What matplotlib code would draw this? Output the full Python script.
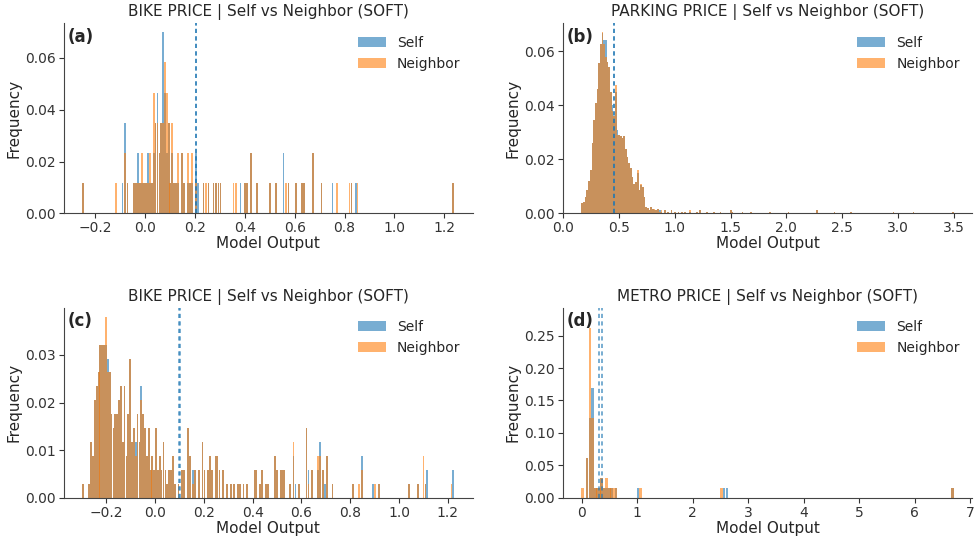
import matplotlib
matplotlib.use("Agg")
import matplotlib.pyplot as plt
import numpy as np

# ---- (a) BIKE PRICE, counts per bin (N = 86)
a_x = [-0.248, -0.116, -0.090, -0.079, -0.070, -0.045, -0.036, -0.028, -0.020, -0.012,
       -0.004, 0.005, 0.012, 0.020, 0.028, 0.035, 0.042, 0.050, 0.058, 0.065,
       0.072, 0.080, 0.087, 0.095, 0.102, 0.110, 0.118, 0.125, 0.132, 0.150,
       0.158, 0.172, 0.180, 0.190, 0.205, 0.212, 0.235, 0.245, 0.255, 0.275,
       0.285, 0.295, 0.303, 0.355, 0.365, 0.383, 0.400, 0.410, 0.425, 0.450,
       0.500, 0.525, 0.555, 0.565, 0.575, 0.605, 0.628, 0.636, 0.675, 0.708,
       0.752, 0.770, 0.820, 0.828, 0.845, 0.852, 1.236]
a_self = [1, 0, 1, 3, 1, 1, 1, 2, 1, 1,
          1, 1, 2, 1, 1, 2, 3, 4, 2, 3,
          6, 4, 2, 3, 1, 2, 1, 1, 1, 2,
          1, 1, 1, 1, 2, 1, 1, 0, 1, 1,
          1, 1, 1, 0, 0, 1, 1, 1, 2, 1,
          1, 1, 2, 0, 1, 1, 1, 1, 2, 1,
          1, 0, 0, 1, 1, 0, 1]
a_nbr = [1, 1, 0, 2, 1, 1, 1, 1, 1, 2,
         1, 1, 1, 2, 1, 4, 3, 3, 2, 3,
         3, 5, 4, 3, 1, 3, 1, 1, 2, 2,
         1, 2, 1, 2, 1, 0, 1, 1, 1, 1,
         1, 1, 1, 1, 1, 0, 1, 1, 2, 1,
         1, 1, 0, 1, 1, 1, 1, 1, 2, 1,
         0, 1, 1, 1, 0, 1, 1]
a_n = 86
a_means = [0.203, 0.205]

# ---- (b) PARKING PRICE, frequency per bin
b_x = [0.172, 0.187, 0.202, 0.217, 0.232, 0.247, 0.262, 0.277, 0.292, 0.307,
       0.322, 0.337, 0.352, 0.367, 0.382, 0.397, 0.412, 0.427, 0.443, 0.458,
       0.473, 0.488, 0.503, 0.518, 0.533, 0.548, 0.563, 0.578, 0.593, 0.608,
       0.623, 0.638, 0.653, 0.668, 0.683, 0.698, 0.714, 0.729, 0.744, 0.759,
       0.774, 0.789, 0.805, 0.820, 0.835, 0.850, 0.866, 0.881, 0.912, 0.942,
       0.972, 1.003, 1.033, 1.063, 1.094, 1.139, 1.199, 1.229, 1.290, 1.350,
       1.411, 1.501, 1.517, 1.608, 1.682, 1.853, 2.020, 2.275, 2.430, 2.580,
       2.960, 3.140, 3.490]
b_self = [0.0037, 0.0043, 0.0062, 0.0087, 0.0120, 0.0160, 0.0260, 0.0346, 0.0410, 0.0460,
          0.0557, 0.0625, 0.0668, 0.0640, 0.0640, 0.0560, 0.0540, 0.0450, 0.0400, 0.0360,
          0.0450, 0.0310, 0.0290, 0.0285, 0.0280, 0.0285, 0.0240, 0.0210, 0.0185, 0.0167,
          0.0136, 0.0110, 0.0117, 0.0150, 0.0087, 0.0105, 0.0099, 0.0060, 0.0025, 0.0019,
          0.0012, 0.0025, 0.0018, 0.0012, 0.0012, 0.0018, 0.0012, 0.0006, 0.0012, 0.0006,
          0.0012, 0.0006, 0.0006, 0.0006, 0.0006, 0.0006, 0.0006, 0.0012, 0.0006, 0.0006,
          0.0006, 0.0012, 0.0006, 0.0006, 0.0006, 0.0006, 0.0006, 0.0012, 0.0006, 0.0006,
          0.0006, 0.0006, 0.0006]
b_nbr = [0.0037, 0.0043, 0.0062, 0.0087, 0.0120, 0.0160, 0.0260, 0.0346, 0.0410, 0.0460,
         0.0557, 0.0625, 0.0670, 0.0625, 0.0580, 0.0560, 0.0540, 0.0450, 0.0380, 0.0360,
         0.0475, 0.0290, 0.0290, 0.0285, 0.0280, 0.0285, 0.0240, 0.0210, 0.0185, 0.0167,
         0.0136, 0.0110, 0.0117, 0.0160, 0.0087, 0.0110, 0.0099, 0.0060, 0.0025, 0.0019,
         0.0012, 0.0025, 0.0018, 0.0018, 0.0012, 0.0018, 0.0006, 0.0012, 0.0012, 0.0006,
         0.0012, 0.0006, 0.0006, 0.0006, 0.0006, 0.0012, 0.0006, 0.0012, 0.0006, 0.0006,
         0.0006, 0.0012, 0.0006, 0.0006, 0.0006, 0.0006, 0.0006, 0.0012, 0.0006, 0.0006,
         0.0006, 0.0006, 0.0006]
b_means = [0.452, 0.455]

# ---- (c) BIKE PRICE, counts per bin (N = 342)
c_x = [-0.295, -0.270, -0.262, -0.254, -0.246, -0.239, -0.231, -0.224, -0.216, -0.208,
       -0.201, -0.193, -0.186, -0.178, -0.170, -0.163, -0.155, -0.148, -0.140, -0.132,
       -0.125, -0.117, -0.110, -0.102, -0.094, -0.087, -0.079, -0.072, -0.064, -0.056,
       -0.049, -0.041, -0.034, -0.026, -0.018, -0.011, -0.003, 0.005, 0.012, 0.020,
       0.027, 0.035, 0.043, 0.050, 0.058, 0.066, 0.073, 0.081, 0.096, 0.111,
       0.119, 0.134, 0.142, 0.157, 0.165, 0.180, 0.195, 0.203, 0.218, 0.226,
       0.233, 0.249, 0.256, 0.264, 0.279, 0.294, 0.310, 0.325, 0.340, 0.348,
       0.363, 0.378, 0.409, 0.416, 0.431, 0.439, 0.454, 0.462, 0.492, 0.500,
       0.515, 0.523, 0.530, 0.553, 0.568, 0.576, 0.591, 0.621, 0.629, 0.644,
       0.667, 0.675, 0.690, 0.698, 0.705, 0.728, 0.812, 0.835, 0.850, 0.895,
       0.903, 0.918, 1.040, 1.078, 1.101, 1.109, 1.116, 1.215, 1.223]
c_self = [1, 1, 4, 3, 7, 8, 9, 11, 11, 11,
          11, 10, 9, 6, 5, 6, 6, 7, 8, 4,
          8, 3, 6, 10, 4, 5, 4, 6, 4, 8,
          6, 5, 3, 5, 2, 3, 2, 5, 2, 3,
          2, 4, 2, 1, 2, 2, 3, 1, 1, 2,
          2, 5, 3, 2, 2, 2, 4, 2, 2, 3,
          2, 3, 3, 2, 2, 1, 1, 1, 1, 1,
          1, 1, 2, 2, 1, 2, 1, 1, 3, 2,
          2, 2, 2, 1, 3, 1, 1, 5, 2, 2,
          2, 4, 2, 1, 3, 1, 1, 0, 3, 1,
          0, 1, 1, 1, 0, 1, 2, 0, 2]
c_nbr = [1, 1, 4, 3, 7, 8, 9, 11, 11, 11,
         13, 9, 9, 6, 5, 6, 6, 7, 8, 4,
         8, 3, 6, 10, 4, 5, 3, 6, 4, 7,
         6, 5, 3, 5, 2, 3, 2, 5, 2, 3,
         2, 4, 2, 1, 2, 2, 3, 1, 1, 2,
         2, 5, 3, 1, 2, 2, 4, 2, 2, 3,
         2, 3, 3, 2, 2, 1, 1, 1, 1, 1,
         1, 1, 2, 2, 1, 2, 1, 1, 3, 2,
         2, 2, 2, 1, 4, 0, 1, 5, 1, 2,
         3, 3, 2, 0, 3, 1, 1, 1, 2, 0,
         1, 1, 1, 1, 3, 1, 0, 1, 0]
c_n = 342
c_means = [0.100, 0.102]

# ---- (d) METRO PRICE, counts per bin (N = 65)
d_x = [0.02, 0.10, 0.15, 0.20, 0.25, 0.28, 0.32, 0.36, 0.40, 0.45,
       0.50, 0.54, 0.58, 0.62, 1.02, 1.06, 2.52, 2.57, 2.62, 6.68]
d_self = [0, 4, 8, 11, 1, 1, 1, 2, 1, 1,
          1, 1, 0, 1, 1, 0, 0, 1, 1, 1]
d_nbr = [1, 4, 17, 8, 1, 1, 1, 2, 1, 2,
         1, 1, 1, 1, 0, 1, 1, 0, 0, 1]
d_n = 65
d_means = [0.315, 0.37]

titles = ["BIKE PRICE | Self vs Neighbor (SOFT)",
          "PARKING PRICE | Self vs Neighbor (SOFT)",
          "BIKE PRICE | Self vs Neighbor (SOFT)",
          "METRO PRICE | Self vs Neighbor (SOFT)"]
tags = ["(a)", "(b)", "(c)", "(d)"]

panels = [
    (a_x, np.array(a_self) / a_n, np.array(a_nbr) / a_n, a_means, 0.0072),
    (b_x, b_self, b_nbr, b_means, 0.0150),
    (c_x, np.array(c_self) / c_n, np.array(c_nbr) / c_n, c_means, 0.0072),
    (d_x, np.array(d_self) / d_n, np.array(d_nbr) / d_n, d_means, 0.045),
]

plt.rcParams["text.color"] = "#262626"
plt.rcParams["axes.labelcolor"] = "#262626"
plt.rcParams["xtick.color"] = "#333333"
plt.rcParams["ytick.color"] = "#333333"
plt.rcParams["axes.edgecolor"] = "#444444"

fig, axes = plt.subplots(2, 2, figsize=(9.78, 5.4), dpi=100)
fig.subplots_adjust(left=0.065, right=0.994, top=0.957, bottom=0.078,
                    wspace=0.22, hspace=0.495)

for ax, (x, s, n, means, w), title, tag in zip(axes.flat, panels, titles, tags):
    ax.bar(x, s, width=w, color="tab:blue", alpha=0.6, linewidth=0, label="Self")
    ax.bar(x, n, width=w, color="tab:orange", alpha=0.6, linewidth=0, label="Neighbor")
    for m in means:
        ax.axvline(m, color="tab:blue", linestyle=(0, (2.5, 2)), linewidth=1.2, alpha=0.7)
    ax.set_title(title, fontsize=11, pad=5)
    ax.set_xlabel("Model Output", fontsize=11, labelpad=1)
    ax.set_ylabel("Frequency", fontsize=11, labelpad=3)
    ax.tick_params(labelsize=10, pad=2)
    ax.spines["top"].set_visible(False)
    ax.spines["right"].set_visible(False)
    ax.text(0.01, 0.975, tag, transform=ax.transAxes, fontsize=12,
            fontweight="bold", va="top", ha="left")
    ax.legend(frameon=False, fontsize=10, loc="upper right")

axes[1, 1].set_ylim(0, 0.293)

fig.savefig("out.png", dpi=100)
